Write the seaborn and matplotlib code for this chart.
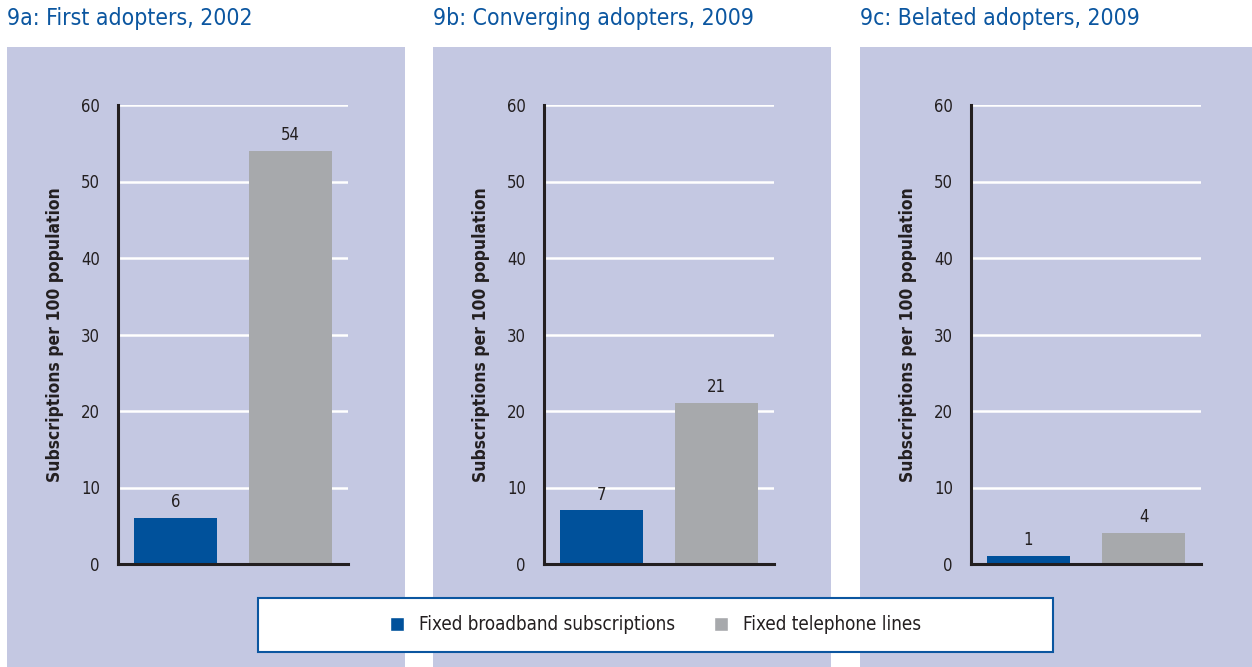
import matplotlib
matplotlib.use("Agg")
import matplotlib.pyplot as plt
from matplotlib.patches import Patch, Rectangle
import pandas as pd
import seaborn as sns

# data
panel_titles = ["9a: First adopters, 2002", "9b: Converging adopters, 2009", "9c: Belated adopters, 2009"]
series_names = ["Fixed broadband subscriptions", "Fixed telephone lines"]
broadband = [6, 7, 1]
telephone = [54, 21, 4]
y_ticks = [0, 10, 20, 30, 40, 50, 60]
y_label = "Subscriptions per 100 population"

BG = "#C4C8E2"
BLUE = "#00519B"
GREY = "#A7A9AC"
TITLE_BLUE = "#0B56A0"
INK = "#231F20"

sns.set_theme(style="white")
plt.rcParams["font.family"] = ["DejaVu Sans"]
plt.rcParams["font.stretch"] = "condensed"

W, H = 1252, 667
fig = plt.figure(figsize=(W / 100, H / 100), dpi=100)

panel_x = [7, 433, 860]
axis_x = [118, 544, 971]
for i, title in enumerate(panel_titles):
    # panel background
    fig.patches.append(Rectangle((panel_x[i] / W, 0), 398 / W, 1 - 47 / H,
                                 transform=fig.transFigure, facecolor=BG,
                                 edgecolor="none", zorder=-5))
    fig.text(panel_x[i] / W, 1 - 19 / H, title, color=TITLE_BLUE, fontsize=16.5,
             va="center", ha="left")

    ax = fig.add_axes([axis_x[i] / W, 1 - 564 / H, 230 / W, (564 - 105) / H])
    df = pd.DataFrame({"series": series_names, "value": [broadband[i], telephone[i]]})
    sns.barplot(data=df, x="series", y="value", hue="series",
                palette=[BLUE, GREY], width=0.72, dodge=False, legend=False,
                ax=ax, saturation=1, zorder=3, edgecolor="none", linewidth=0)
    ax.set_facecolor("none")
    ax.set_xlim(-0.5, 1.5)
    ax.set_ylim(0, 60)
    ax.set_yticks(y_ticks)
    ax.set_yticklabels([str(t) for t in y_ticks], fontsize=12, color=INK)
    ax.set_xticks([])
    ax.set_xlabel("")
    ax.set_ylabel(y_label, fontsize=12.5, fontweight="bold", color=INK,
                  labelpad=12)
    ax.tick_params(axis="y", length=0, pad=13)
    for t in y_ticks[1:]:
        ax.axhline(t, color="white", lw=1.8, zorder=1)
    for s in ["top", "right"]:
        ax.spines[s].set_visible(False)
    for s in ["left", "bottom"]:
        ax.spines[s].set_color(INK)
        ax.spines[s].set_linewidth(2.2)
        ax.spines[s].set_zorder(4)
    for c in ax.containers:
        ax.bar_label(c, fmt="%d", padding=5, fontsize=12, color=INK)

handles = [Patch(facecolor=BLUE, label=series_names[0]),
           Patch(facecolor=GREY, label=series_names[1])]
leg_box = Rectangle((258 / W, 1 - 652 / H), 795 / W, 54 / H,
                    transform=fig.transFigure, facecolor="white",
                    edgecolor=TITLE_BLUE, lw=1.5, zorder=5)
fig.patches.append(leg_box)
leg = fig.legend(handles=handles, loc="center", bbox_to_anchor=(655.5 / W, 1 - 625 / H),
                 ncol=2, frameon=False, fontsize=13.5, handlelength=0.75,
                 handleheight=0.75, columnspacing=2.1, handletextpad=0.8)
leg.set_zorder(6)
for t in leg.get_texts():
    t.set_color(INK)

fig.savefig("out.png", dpi=100)
